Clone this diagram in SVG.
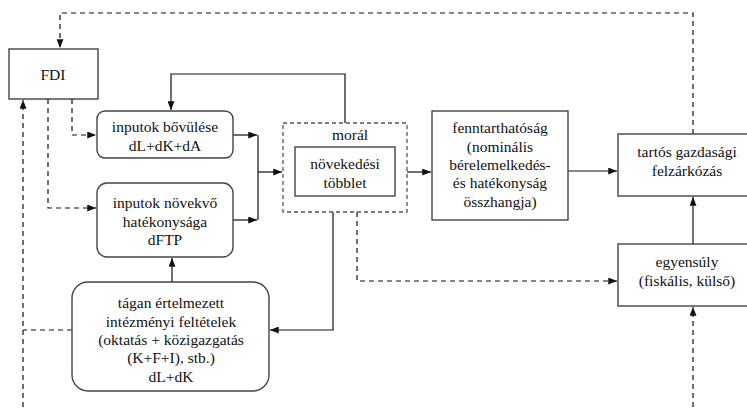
<svg xmlns="http://www.w3.org/2000/svg" width="747" height="411" viewBox="0 0 747 411">
<style>
text{font-family:"Liberation Serif","Times New Roman",serif;font-size:15.5px;fill:#111;text-anchor:middle}
.box{fill:#fff;stroke:#444;stroke-width:1.4}
.ln{fill:none;stroke:#111;stroke-width:1.2}
.ds{fill:none;stroke:#111;stroke-width:1.2;stroke-dasharray:5,4}
</style>
<defs>
<marker id="ah" viewBox="0 0 10 8" refX="10" refY="4" markerWidth="9" markerHeight="7" markerUnits="userSpaceOnUse" orient="auto">
<path d="M0,0 L10,4 L0,8 Z" fill="#111"/>
</marker>
</defs>
<g id="connectors">
<path class="ds" d="M693,134 V13 H60 V48" marker-end="url(#ah)"/>
<path class="ds" d="M72,99 V135 H96" marker-end="url(#ah)"/>
<path class="ds" d="M48,99 V208 H96" marker-end="url(#ah)"/>
<path class="ds" d="M23,407 V100" marker-end="url(#ah)"/>
<path class="ds" d="M72,330 H23"/>
<path class="ln" d="M345,123 V74 H171 V110" marker-end="url(#ah)"/>
<path class="ln" d="M233,135 H257" marker-end="url(#ah)"/>
<path class="ln" d="M233,220 H257" marker-end="url(#ah)"/>
<path class="ln" d="M258,135 V220"/>
<path class="ln" d="M258,172 H282" marker-end="url(#ah)"/>
<path class="ln" d="M172,282 V258" marker-end="url(#ah)"/>
<path class="ln" d="M407,172 H431" marker-end="url(#ah)"/>
<path class="ln" d="M568,171 H617" marker-end="url(#ah)"/>
<path class="ln" d="M693,244 V197" marker-end="url(#ah)"/>
<path class="ds" d="M693,407 V307" marker-end="url(#ah)"/>
<path class="ds" d="M357,212 V281 H617" marker-end="url(#ah)"/>
<path class="ln" d="M333,212 V330 H270" marker-end="url(#ah)"/>
</g>
<g id="fdi">
<rect class="box" x="9" y="49" width="89" height="50"/>
<text x="53" y="80">FDI</text>
</g>
<g id="bovulese">
<rect class="box" x="97" y="111" width="136" height="47" rx="8"/>
<text x="165" y="132">inputok bővülése</text>
<text x="165" y="151">dL+dK+dA</text>
</g>
<g id="novekvo">
<rect class="box" x="97" y="183" width="136" height="74" rx="10"/>
<text x="165" y="208">inputok növekvő</text>
<text x="165" y="227">hatékonysága</text>
<text x="165" y="245">dFTP</text>
</g>
<g id="tagan">
<rect class="box" x="72" y="282" width="197" height="109" rx="16"/>
<text x="171" y="308">tágan értelmezett</text>
<text x="171" y="327">intézményi feltételek</text>
<text x="171" y="345">(oktatás + közigazgatás</text>
<text x="171" y="363">(K+F+I), stb.)</text>
<text x="171" y="382">dL+dK</text>
</g>
<g id="moral">
<rect x="283" y="123" width="124" height="89" fill="#fff" stroke="#555" stroke-width="1.3" stroke-dasharray="4,3"/>
<text x="350" y="140">morál</text>
<rect class="box" x="295" y="147" width="100" height="49"/>
<text x="345" y="169">növekedési</text>
<text x="345" y="188">többlet</text>
</g>
<g id="fenntarthatosag">
<rect class="box" x="432" y="111" width="136" height="109"/>
<text x="500" y="133">fenntarthatóság</text>
<text x="500" y="152">(nominális</text>
<text x="500" y="170">bérelemelkedés-</text>
<text x="500" y="188">és hatékonyság</text>
<text x="500" y="207">összhangja)</text>
</g>
<g id="tartos">
<rect class="box" x="618" y="134" width="132" height="62"/>
<text x="687" y="157">tartós gazdasági</text>
<text x="687" y="176">felzárkózás</text>
</g>
<g id="egyensuly">
<rect class="box" x="618" y="244" width="132" height="62"/>
<text x="687" y="267">egyensúly</text>
<text x="687" y="286">(fiskális, külső)</text>
</g>
</svg>
